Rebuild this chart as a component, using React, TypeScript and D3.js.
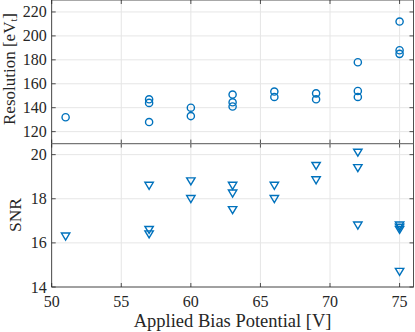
import * as d3 from "d3";
import React from "react";

// applied bias [V] for each resolution measurement
const biasRes = [51, 57, 57, 57, 60, 60, 63, 63, 63, 66, 66, 69, 69, 72, 72, 72, 75, 75, 75];
const resolution = [132, 147, 144, 128, 140, 133, 151, 144.5, 141, 153.5, 149, 152, 147, 178, 154, 149, 212, 188, 185];

// applied bias [V] for each SNR measurement
const biasSnr = [51, 57, 57, 57, 60, 60, 63, 63, 63, 66, 66, 69, 69, 72, 72, 72, 75, 75, 75, 75];
const snr = [16.3, 18.6, 16.6, 16.4, 18.8, 18.0, 18.6, 18.25, 17.5, 18.6, 18.0, 19.5, 18.85, 20.1, 19.4, 16.8, 16.8, 16.7, 16.6, 14.7];

const xTicks = [50, 55, 60, 65, 70, 75];
const resTicks = [120, 140, 160, 180, 200, 220];
const snrTicks = [14, 16, 18, 20];

const W = 415;
const H = 332;
const left = 51.7;
const right = 413.5;
const split = 143.6;
const bottom = 287;

const blue = "#0072BD";
const axisCol = "#262626";
const gridCol = "#e6e6e6";
const font = "'Liberation Serif', 'DejaVu Serif', serif";
const tickLen = 4;

const x = d3.scaleLinear().domain([50, 76]).range([left, right]);
const yRes = d3.scaleLinear().domain([110, 230]).range([split, 0]);
const ySnr = d3.scaleLinear().domain([14, 20.5]).range([bottom, split]);

const tri = "M-4.2,-3.2L4.2,-3.2L0,3.8Z";

function Panel({ y, ticks, top, bot }: { y: d3.ScaleLinear<number, number>; ticks: number[]; top: number; bot: number }) {
  return (
    <g>
      {/* grid */}
      {xTicks.map((t) => (
        <line key={"gx" + t} x1={x(t)} x2={x(t)} y1={top} y2={bot} stroke={gridCol} strokeWidth={1} />
      ))}
      {ticks.map((t) => (
        <line key={"gy" + t} x1={left} x2={right} y1={y(t)} y2={y(t)} stroke={gridCol} strokeWidth={1} />
      ))}
      {/* ticks inside on all sides */}
      {xTicks.map((t) => (
        <g key={"tx" + t}>
          <line x1={x(t)} x2={x(t)} y1={bot} y2={bot - tickLen} stroke={axisCol} strokeWidth={0.8} />
          <line x1={x(t)} x2={x(t)} y1={top} y2={top + tickLen} stroke={axisCol} strokeWidth={0.8} />
        </g>
      ))}
      {ticks.map((t) => (
        <g key={"ty" + t}>
          <line x1={left} x2={left + tickLen} y1={y(t)} y2={y(t)} stroke={axisCol} strokeWidth={0.8} />
          <line x1={right} x2={right - tickLen} y1={y(t)} y2={y(t)} stroke={axisCol} strokeWidth={0.8} />
          <text x={left - 5} y={y(t)} textAnchor="end" dominantBaseline="central" fontSize={16} fontFamily={font} fill={axisCol}>
            {t}
          </text>
        </g>
      ))}
      {/* frame */}
      <rect x={left} y={top} width={right - left} height={bot - top} fill="none" stroke={axisCol} strokeWidth={0.8} />
    </g>
  );
}

export default function App() {
  return (
    <svg width={W} height={H} style={{ position: "absolute", left: 0, top: 0, background: "#fff" }}>
      <rect width={W} height={H} fill="#fff" />
      <Panel y={yRes} ticks={resTicks} top={0} bot={split} />
      <Panel y={ySnr} ticks={snrTicks} top={split} bot={bottom} />
      <line x1={left} x2={right} y1={split} y2={split} stroke="#777" strokeWidth={1.3} />

      {resolution.map((v, i) => (
        <circle key={"c" + i} cx={x(biasRes[i])} cy={yRes(v)} r={3.6} fill="none" stroke={blue} strokeWidth={1.4} />
      ))}
      {snr.map((v, i) => (
        <path key={"t" + i} d={tri} transform={`translate(${x(biasSnr[i])},${ySnr(v)})`} fill="none" stroke={blue} strokeWidth={1.4} strokeLinejoin="miter" />
      ))}

      {xTicks.map((t) => (
        <text key={"xl" + t} x={x(t)} y={301} textAnchor="middle" dominantBaseline="central" fontSize={16} fontFamily={font} fill={axisCol}>
          {t}
        </text>
      ))}

      <text x={(left + right) / 2} y={321} textAnchor="middle" dominantBaseline="central" fontSize={18.5} fontFamily={font} fill={axisCol}>
        Applied Bias Potential [V]
      </text>
      <text transform="translate(9,69) rotate(-90)" textAnchor="middle" dominantBaseline="central" fontSize={17} fontFamily={font} fill={axisCol}>
        Resolution [eV<tspan fontSize={10.5} dy={4}>t</tspan>
        <tspan dy={-4}>]</tspan>
      </text>
      <text transform="translate(15,215) rotate(-90)" textAnchor="middle" dominantBaseline="central" fontSize={17.5} fontFamily={font} fill={axisCol}>
        SNR
      </text>
    </svg>
  );
}
